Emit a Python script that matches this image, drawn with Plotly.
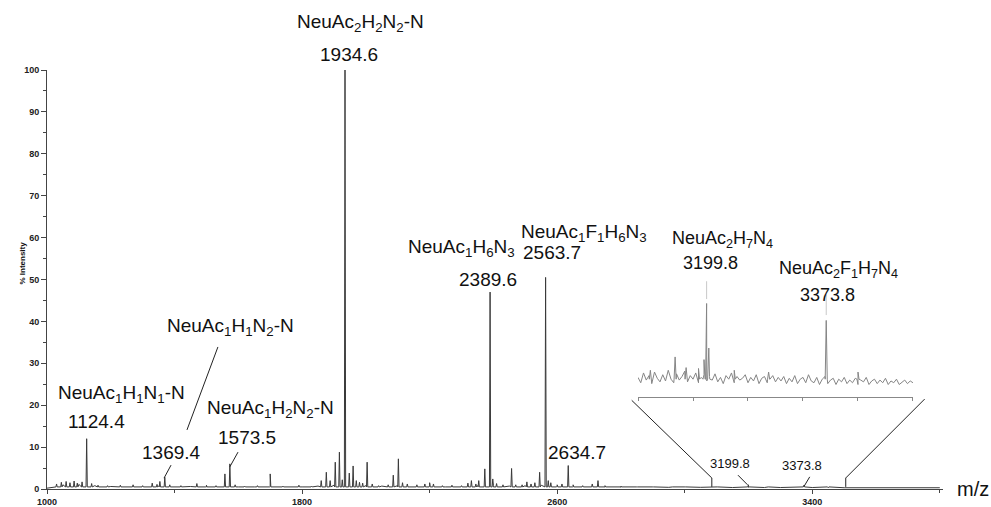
import plotly.graph_objects as go

# ---------------- data ----------------
# main spectrum: baseline samples (every 50 m/z) and peaks
baseline_mz = list(range(1000, 3801, 50))
baseline_int = [0.2, 1.0, 1.1, 0.8, 0.6, 0.5, 0.6, 0.7, 0.5, 0.6,
                0.5, 0.6, 0.5, 0.5, 0.6, 0.5, 0.5, 0.7, 0.9, 1.0,
                0.8, 0.7, 0.8, 0.6, 0.7, 0.5, 0.6, 0.8, 0.9, 0.7,
                0.8, 0.9, 0.7, 0.6, 0.5, 0.5, 0.4, 0.4, 0.4, 0.4,
                0.4, 0.4, 0.35, 0.35, 0.4, 0.35, 0.35, 0.35, 0.35, 0.3,
                0.3, 0.3, 0.3, 0.3, 0.3, 0.3, 0.3]

peak_mz = [1030, 1045, 1060, 1072, 1085, 1095, 1110, 1124.4, 1140, 1160,
           1190, 1230, 1270, 1300, 1330, 1345, 1354, 1369.4, 1385, 1420,
           1470, 1500, 1530, 1558, 1573.5, 1590, 1620, 1660, 1700, 1740,
           1790, 1830, 1860, 1876, 1888, 1904, 1917, 1926, 1934.6, 1948,
           1960, 1970, 1980, 1990, 2004, 2020, 2040, 2070, 2086, 2102,
           2115, 2130, 2160, 2185, 2200, 2212, 2240, 2270, 2300, 2320,
           2331, 2345, 2354, 2373, 2389.6, 2398, 2410, 2430, 2457, 2470,
           2490, 2505, 2518, 2530, 2545, 2563.7, 2572, 2580, 2600, 2615,
           2634.7, 2650, 2680, 2710, 2728, 2750, 2800, 2850, 2900, 2960,
           3000, 3100, 3199.8, 3260, 3373.8, 3450]
peak_int = [1.2, 1.6, 1.8, 1.5, 1.9, 1.4, 1.7, 12.0, 1.3, 0.9,
            0.8, 0.9, 1.0, 0.8, 1.4, 1.1, 1.8, 2.8, 1.0, 0.8,
            1.3, 0.9, 0.8, 3.6, 6.0, 1.0, 0.7, 0.8, 3.6, 0.7,
            0.9, 0.7, 2.0, 4.0, 2.0, 6.4, 8.8, 2.2, 100.0, 3.8,
            5.5, 2.0, 1.6, 1.4, 6.4, 1.2, 0.8, 1.0, 3.3, 7.2,
            1.5, 1.2, 1.0, 1.2, 1.5, 1.2, 0.8, 0.9, 0.8, 1.4,
            2.0, 1.2, 2.0, 4.8, 47.0, 2.4, 1.3, 1.0, 4.9, 1.0,
            1.0, 1.7, 1.2, 1.5, 4.0, 50.5, 2.0, 1.5, 1.0, 1.2,
            5.6, 1.0, 0.8, 1.2, 2.0, 0.8, 0.7, 0.6, 0.6, 0.5,
            0.6, 0.5, 1.0, 0.5, 0.9, 0.4]

# inset (m/z 3100-3500, magnified)
inset_noise_mz = list(range(3100, 3501, 4))
inset_noise_int = [0.22, 0.16, 0.27, 0.19, 0.24, 0.15, 0.28, 0.21, 0.17, 0.25,
                   0.18, 0.30, 0.20, 0.16, 0.26, 0.19, 0.23, 0.29, 0.17, 0.24,
                   0.20, 0.27, 0.16, 0.22, 0.25, 0.18, 0.23, 0.19, 0.26, 0.17,
                   0.22, 0.15, 0.24, 0.20, 0.27, 0.16, 0.23, 0.19, 0.21, 0.25,
                   0.16, 0.22, 0.18, 0.25, 0.15, 0.21, 0.23, 0.16, 0.20, 0.24,
                   0.17, 0.22, 0.18, 0.23, 0.15, 0.21, 0.17, 0.24, 0.15, 0.20,
                   0.22, 0.16, 0.25, 0.18, 0.16, 0.22, 0.14, 0.20, 0.23, 0.15,
                   0.19, 0.21, 0.14, 0.20, 0.17, 0.22, 0.15, 0.19, 0.16, 0.21,
                   0.14, 0.19, 0.17, 0.22, 0.14, 0.18, 0.20, 0.15, 0.19, 0.16,
                   0.21, 0.14, 0.18, 0.16, 0.20, 0.14, 0.17, 0.19, 0.15, 0.18, 0.16]
inset_peak_mz = [3118, 3154, 3170, 3188, 3196, 3199.8, 3203, 3240, 3290, 3373.8, 3420]
inset_peak_int = [0.30, 0.45, 0.33, 0.32, 0.42, 1.05, 0.55, 0.30, 0.28, 0.86, 0.28]

x_ticks = [1000, 1800, 2600, 3400]
y_ticks = list(range(0, 101, 10))

# ---------------- helpers ----------------
def merge(base_x, base_y, px_, py_, half, b0):
    pts = list(zip(base_x, base_y))
    for m, h in zip(px_, py_):
        pts += [(m - half, b0), (m, h), (m + half, b0)]
    pts.sort(key=lambda p: p[0])
    return [p[0] for p in pts], [p[1] for p in pts]

XMIN, XMAX = 1000, 3810
def px(mz):  # main-axis data -> paper x
    return (mz - XMIN) / (XMAX - XMIN)

mx, my = merge(baseline_mz, baseline_int, peak_mz, peak_int, 2.0, 0.5)
ix, iy = merge(inset_noise_mz, inset_noise_int, inset_peak_mz, inset_peak_int, 1.5, 0.2)

FONT = "Liberation Sans, Arial, sans-serif"
fig = go.Figure()
fig.add_trace(go.Scatter(x=mx, y=my, mode="lines", line=dict(color="#3a3a3a", width=1),
                         hoverinfo="skip", cliponaxis=False))
fig.add_trace(go.Scatter(x=ix, y=iy, mode="lines", line=dict(color="#858585", width=1),
                         xaxis="x2", yaxis="y2", hoverinfo="skip"))

INSET_X = [0.6596, 0.9665]
INSET_Y = [0.2196, 0.5107]

fig.update_layout(
    width=991, height=507,
    margin=dict(l=47, r=48, t=70, b=18),
    paper_bgcolor="white", plot_bgcolor="white",
    showlegend=False,
    font=dict(family=FONT, color="#111"),
    xaxis=dict(range=[XMIN, XMAX], tickvals=x_ticks, ticks="outside", ticklen=4,
               tickcolor="#444", showline=True, linecolor="#444", linewidth=1,
               showgrid=False, zeroline=False, automargin=False,
               tickfont=dict(size=9, weight="bold", color="#222"),
               minor=dict(dtick=400, tick0=1000, ticks="outside", ticklen=3, tickcolor="#444")),
    yaxis=dict(range=[0, 100], tickvals=y_ticks, ticks="outside", ticklen=5,
               tickcolor="#444", showline=True, linecolor="#444", linewidth=1,
               showgrid=False, zeroline=False, automargin=False,
               tickfont=dict(size=9, weight="bold", color="#222"),
               minor=dict(dtick=5, tick0=0, ticks="outside", ticklen=3, tickcolor="#444")),
    xaxis2=dict(domain=INSET_X, anchor="y2", range=[3100, 3500], dtick=80, tick0=3100,
                ticks="outside", ticklen=3, tickcolor="#888", showline=True,
                linecolor="#888", linewidth=1, showgrid=False, zeroline=False,
                showticklabels=False, automargin=False),
    yaxis2=dict(domain=INSET_Y, anchor="x2", range=[0, 1.37], visible=False),
)

ann = []
def label(x, y, text, size=19, yref="y"):
    ann.append(dict(x=x, y=y, xref="x", yref=yref, text=text, showarrow=False,
                    font=dict(size=size, family=FONT, color="#111"),
                    xanchor="center", yanchor="middle"))

label(1984, 1.112, "NeuAc<sub>2</sub>H<sub>2</sub>N<sub>2</sub>-N", yref="paper")
label(1947, 1.036, "1934.6", yref="paper")
label(2301, 57.5, "NeuAc<sub>1</sub>H<sub>6</sub>N<sub>3</sub>")
label(2383, 49.9, "2389.6")
label(2683, 61.0, "NeuAc<sub>1</sub>F<sub>1</sub>H<sub>6</sub>N<sub>3</sub>")
label(2584, 56.4, "2563.7")
label(3117, 59.6, "NeuAc<sub>2</sub>H<sub>7</sub>N<sub>4</sub>", 18)
label(3082, 53.9, "3199.8", 18)
label(3483, 52.3, "NeuAc<sub>2</sub>F<sub>1</sub>H<sub>7</sub>N<sub>4</sub>", 18)
label(3449, 46.3, "3373.8", 18)
label(1235, 22.6, "NeuAc<sub>1</sub>H<sub>1</sub>N<sub>1</sub>-N")
label(1154, 16.0, "1124.4")
label(1577, 38.6, "NeuAc<sub>1</sub>H<sub>1</sub>N<sub>2</sub>-N")
label(1392, 8.8, "1369.4")
label(1702, 19.2, "NeuAc<sub>1</sub>H<sub>2</sub>N<sub>2</sub>-N")
label(1627, 12.4, "1573.5")
label(2662, 8.6, "2634.7")
label(3142, 6.2, "3199.8", 13)
label(3367, 5.7, "3373.8", 13)

ann.append(dict(x=1.0335, y=0, xref="paper", yref="y", text="m/z", showarrow=False,
                font=dict(size=20, family=FONT, color="#111"), xanchor="center", yanchor="middle"))
ann.append(dict(x=-0.027, y=0.54, xref="paper", yref="paper", text="% Intensity",
                textangle=-90, showarrow=False,
                font=dict(size=8, family=FONT, color="#111", weight="bold"),
                xanchor="center", yanchor="middle"))
fig.update_layout(annotations=ann)

shapes = []
def seg(x0, y0, x1, y1, xref="x", yref="y", color="#222", width=1):
    shapes.append(dict(type="line", x0=x0, y0=y0, x1=x1, y1=y1, xref=xref, yref=yref,
                       line=dict(color=color, width=width)))

# label pointers
seg(1536, 33.9, 1439, 14.1)
seg(1389, 5.7, 1367, 2.6)
seg(1599, 8.8, 1573.5, 5.3)
seg(3167, 3.3, 3197, 1.0)
seg(3392, 2.9, 3374, 0.6)
# faint pointers in inset
seg(3199.8, 1.10, 3199.8, 1.30, "x2", "y2", "#c8c8c8")
seg(3373.8, 0.92, 3373.8, 1.15, "x2", "y2", "#c8c8c8")

# zoom connector lines
yb = 0.0263
seg(INSET_X[0] - 0.007, INSET_Y[0] - 0.008, px(3085), yb, "paper", "paper")
seg(px(3085), yb, px(3085), 0.005, "paper", "paper")
seg(INSET_X[1] + 0.013, INSET_Y[0] - 0.005, px(3505), yb, "paper", "paper")
seg(px(3505), yb, px(3505), 0.005, "paper", "paper")
fig.update_layout(shapes=shapes)

fig.write_html("out.html", config={"displayModeBar": False},
               post_script="document.body.style.margin='0px';")
